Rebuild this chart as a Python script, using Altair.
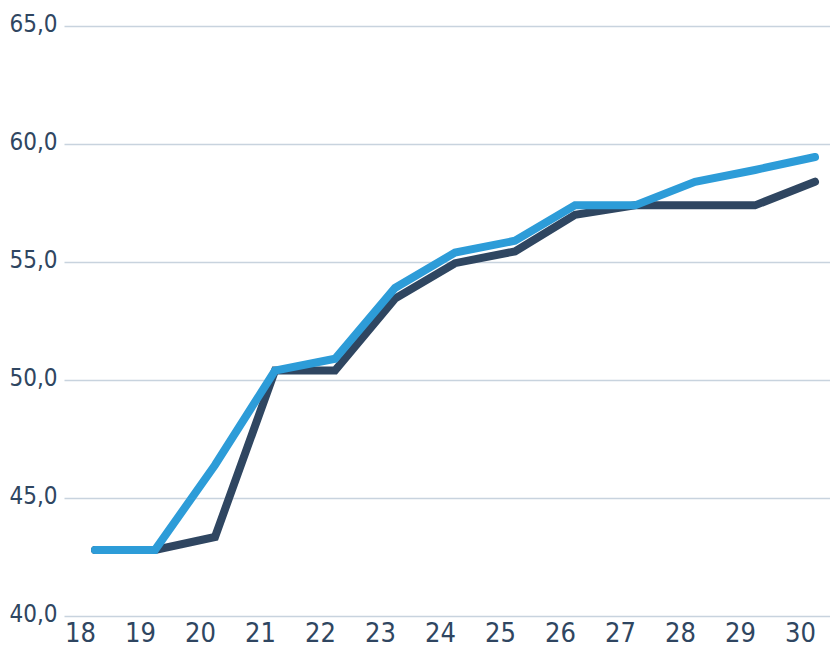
import altair as alt
import pandas as pd

ages = [18, 19, 20, 21, 22, 23, 24, 25, 26, 27, 28, 29, 30]
dark_values = [42.8, 42.8, 43.35, 50.4, 50.4, 53.45, 54.95, 55.45, 57.0, 57.4, 57.4, 57.4, 58.4]
light_values = [42.8, 42.8, 46.4, 50.4, 50.9, 53.9, 55.4, 55.9, 57.4, 57.4, 58.4, 58.9, 59.45]

series_names = ["dark", "light"]
series_colors = ["#2f4661", "#2d9cd8"]

rows = []
for a, v in zip(ages, dark_values):
    rows.append({"age": a, "value": v, "series": "dark"})
for a, v in zip(ages, light_values):
    rows.append({"age": a, "value": v, "series": "light"})
df = pd.DataFrame(rows)

FONT = "DejaVu Sans Condensed, sans-serif"
TXT = "#2f4661"

chart = alt.Chart(df).mark_line(strokeWidth=8, strokeCap="round", clip=False).encode(
    x=alt.X(
        "age:Q",
        scale=alt.Scale(domain=[17.483, 30.25], nice=False, zero=False),
        axis=alt.Axis(
            values=ages, title=None, grid=False, domain=False, ticks=False,
            labelFont=FONT, labelFontSize=27, labelColor=TXT, labelPadding=4,
            labelOffset=-15, format="d", labelOverlap=False,
        ),
    ),
    y=alt.Y(
        "value:Q",
        scale=alt.Scale(domain=[40, 65], nice=False, zero=False),
        axis=alt.Axis(
            values=[40, 45, 50, 55, 60, 65], title=None, domain=False, ticks=False,
            grid=True, gridColor="#c8d3de", gridWidth=1.5,
            labelFont=FONT, labelFontSize=24, labelColor=TXT, labelPadding=7,
            labelExpr="replace(format(datum.value, '.1f'), '.', ',')",
            labelBaseline="middle", labelOffset=-2, labelLimit=60,
        ),
    ),
    color=alt.Color(
        "series:N",
        scale=alt.Scale(domain=series_names, range=series_colors),
        legend=None,
    ),
    order=alt.Order("age:Q"),
).properties(
    width=766,
    height=590,
    autosize=alt.AutoSizeParams(type="none"),
    padding={"left": 56, "top": 18, "right": 0, "bottom": 36},
).configure_view(stroke=None)

chart.save("out.html", embed_options={"renderer": "svg", "actions": False})
